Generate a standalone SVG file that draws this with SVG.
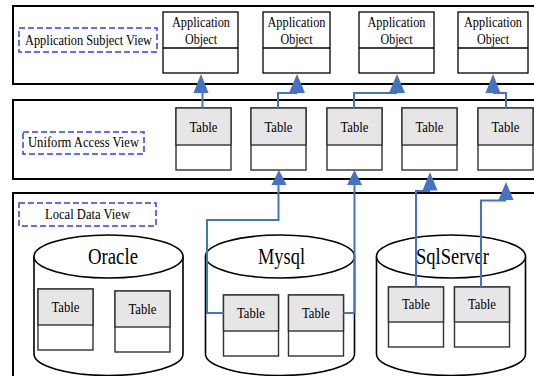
<svg xmlns="http://www.w3.org/2000/svg" width="534" height="376" viewBox="0 0 534 376">
<style>
.frame{fill:#fff;stroke:#000;stroke-width:2}
.lbl{fill:none;stroke:#2f3ff0;stroke-width:1.5;stroke-dasharray:6,3}
.box{fill:#fff;stroke:#000;stroke-width:1.3}
.tb{fill:#fff;stroke:#333;stroke-width:1.4}
.th{fill:#e6e6e6;stroke:#333;stroke-width:1.4}
.cyl{fill:#fff;stroke:#000;stroke-width:1.6}
text{font-family:"Liberation Serif","DejaVu Serif","Times New Roman",serif;fill:#000;text-anchor:middle}
.s{font-size:15px}
.b{font-size:23px}
.cn{fill:none;stroke:#4472c4;stroke-width:2}
.ah{fill:#4472c4;stroke:none}
</style>
<rect width="534" height="376" fill="#fff"/>
<g id="frames">
<rect class="frame" x="13" y="6" width="540" height="78"/>
<rect class="frame" x="13" y="100" width="540" height="79"/>
<rect class="frame" x="13" y="193" width="540" height="200"/>
</g>
<g id="view-labels">
<g id="app-subject-view"><rect class="lbl" x="19" y="28" width="138" height="24"/><text class="s" x="88.5" y="45" textLength="127" lengthAdjust="spacingAndGlyphs">Application Subject View</text></g>
<g id="uniform-access-view"><rect class="lbl" x="23" y="132" width="121" height="22"/><text class="s" x="83.5" y="147" textLength="111" lengthAdjust="spacingAndGlyphs">Uniform Access View</text></g>
<g id="local-data-view"><rect class="lbl" x="19" y="203" width="137" height="23"/><text class="s" x="87.5" y="219" textLength="85" lengthAdjust="spacingAndGlyphs">Local Data View</text></g>
</g>
<g id="app-objects">
<g id="ao1"><rect class="box" x="163" y="12" width="75" height="61"/><line class="box" x1="163" y1="48" x2="238" y2="48"/><text class="s" x="201" y="27" textLength="58" lengthAdjust="spacingAndGlyphs">Application</text><text class="s" x="201" y="44" textLength="32" lengthAdjust="spacingAndGlyphs">Object</text></g>
<g id="ao2"><rect class="box" x="263" y="12" width="67" height="61"/><line class="box" x1="263" y1="48" x2="330" y2="48"/><text class="s" x="296.5" y="27" textLength="58" lengthAdjust="spacingAndGlyphs">Application</text><text class="s" x="296.5" y="44" textLength="32" lengthAdjust="spacingAndGlyphs">Object</text></g>
<g id="ao3"><rect class="box" x="359" y="12" width="75" height="61"/><line class="box" x1="359" y1="48" x2="434" y2="48"/><text class="s" x="396.5" y="27" textLength="58" lengthAdjust="spacingAndGlyphs">Application</text><text class="s" x="396.5" y="44" textLength="32" lengthAdjust="spacingAndGlyphs">Object</text></g>
<g id="ao4"><rect class="box" x="458" y="12" width="70" height="61"/><line class="box" x1="458" y1="48" x2="528" y2="48"/><text class="s" x="493" y="27" textLength="58" lengthAdjust="spacingAndGlyphs">Application</text><text class="s" x="493" y="44" textLength="32" lengthAdjust="spacingAndGlyphs">Object</text></g>
</g>
<g id="uniform-tables">
<g id="ut1"><rect class="tb" x="176" y="108" width="55" height="62"/><rect class="th" x="176" y="108" width="55" height="37"/><text class="s" x="203.5" y="132" textLength="28" lengthAdjust="spacingAndGlyphs">Table</text></g>
<g id="ut2"><rect class="tb" x="251" y="108" width="55" height="62"/><rect class="th" x="251" y="108" width="55" height="37"/><text class="s" x="278.5" y="132" textLength="28" lengthAdjust="spacingAndGlyphs">Table</text></g>
<g id="ut3"><rect class="tb" x="327" y="108" width="55" height="62"/><rect class="th" x="327" y="108" width="55" height="37"/><text class="s" x="354.5" y="132" textLength="28" lengthAdjust="spacingAndGlyphs">Table</text></g>
<g id="ut4"><rect class="tb" x="402" y="108" width="55" height="62"/><rect class="th" x="402" y="108" width="55" height="37"/><text class="s" x="429.5" y="132" textLength="28" lengthAdjust="spacingAndGlyphs">Table</text></g>
<g id="ut5"><rect class="tb" x="478" y="108" width="55" height="62"/><rect class="th" x="478" y="108" width="55" height="37"/><text class="s" x="505.5" y="132" textLength="28" lengthAdjust="spacingAndGlyphs">Table</text></g>
</g>
<g id="oracle">
<path class="cyl" d="M34,256.5 V354 A74.5,21.5 0 0 0 183,354 V256.5"/>
<ellipse class="cyl" cx="108.5" cy="256.5" rx="74.5" ry="21.5"/>
<text class="b" x="113" y="264" textLength="50" lengthAdjust="spacingAndGlyphs">Oracle</text>
<rect class="tb" x="38" y="289" width="55" height="61"/><rect class="th" x="38" y="289" width="55" height="36"/><text class="s" x="65.5" y="312" textLength="28" lengthAdjust="spacingAndGlyphs">Table</text>
<rect class="tb" x="115" y="291" width="55" height="61"/><rect class="th" x="115" y="291" width="55" height="36"/><text class="s" x="142.5" y="314" textLength="28" lengthAdjust="spacingAndGlyphs">Table</text>
</g>
<g id="mysql">
<path class="cyl" d="M205.5,256.5 V354 A74.5,21.5 0 0 0 354.5,354 V256.5"/>
<ellipse class="cyl" cx="280" cy="256.5" rx="74.5" ry="21.5"/>
<text class="b" x="281.5" y="264" textLength="47" lengthAdjust="spacingAndGlyphs">Mysql</text>
<rect class="tb" x="223.5" y="295" width="55" height="61"/><rect class="th" x="223.5" y="295" width="55" height="36"/><text class="s" x="251" y="318" textLength="28" lengthAdjust="spacingAndGlyphs">Table</text>
<rect class="tb" x="288.5" y="295" width="55" height="61"/><rect class="th" x="288.5" y="295" width="55" height="36"/><text class="s" x="316" y="318" textLength="28" lengthAdjust="spacingAndGlyphs">Table</text>
</g>
<g id="sqlserver">
<path class="cyl" d="M376.5,256.5 V354 A74.5,21.5 0 0 0 525.5,354 V256.5"/>
<ellipse class="cyl" cx="451" cy="256.5" rx="74.5" ry="21.5"/>
<text class="b" x="452.5" y="264" textLength="73" lengthAdjust="spacingAndGlyphs">SqlServer</text>
<rect class="tb" x="388.5" y="287" width="55" height="60"/><rect class="th" x="388.5" y="287" width="55" height="35"/><text class="s" x="416" y="309" textLength="28" lengthAdjust="spacingAndGlyphs">Table</text>
<rect class="tb" x="454.5" y="287" width="55" height="60"/><rect class="th" x="454.5" y="287" width="55" height="35"/><text class="s" x="482" y="309" textLength="28" lengthAdjust="spacingAndGlyphs">Table</text>
</g>
<g id="connectors">
<path class="cn" d="M202.5,108 V92"/>
<polygon class="ah" points="193.5,93 208.5,93 201,74"/>
<path class="cn" d="M278,108 V93 H297"/>
<polygon class="ah" points="289,93 305,93 297,74"/>
<path class="cn" d="M354,108 V93 H397"/>
<polygon class="ah" points="389,93 405,93 397,74"/>
<path class="cn" d="M506,108 V93 H493"/>
<polygon class="ah" points="485.5,93 500.5,93 493,74"/>
<path class="cn" d="M223.5,313 H207 V220 H278.5 V183"/>
<polygon class="ah" points="271.5,185 286.5,185 279,170"/>
<path class="cn" d="M343.5,313 H354.5 V183"/>
<polygon class="ah" points="347,185 362,185 354.5,170"/>
<path class="cn" d="M416,287 V191 H430"/>
<polygon class="ah" points="422.5,190.5 437.5,190.5 430,172"/>
<path class="cn" d="M481,287 V200.5 H506"/>
<polygon class="ah" points="498.5,200 513.5,200 506,182"/>
</g>
</svg>
